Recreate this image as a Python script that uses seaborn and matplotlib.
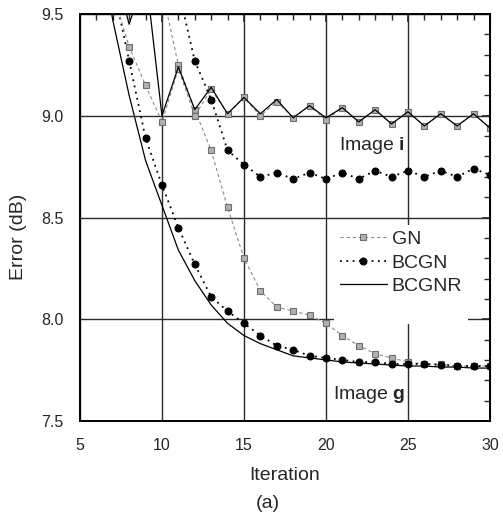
import numpy as np
import pandas as pd
import matplotlib
matplotlib.use("Agg")
import matplotlib.pyplot as plt
import seaborn as sns
from matplotlib.lines import Line2D
from matplotlib.ticker import MultipleLocator

# iteration numbers
iters = list(range(5, 31))

# image g curves
gn_g = [12.2, 11.7, 11.2, 10.7, 10.2, 9.62, 9.25, 9.03, 8.83, 8.55, 8.30, 8.14, 8.06,
        8.04, 8.02, 7.98, 7.92, 7.87, 7.83, 7.81, 7.79, 7.78, 7.78, 7.77, 7.77, 7.77]
bcgn_g = [10.8, 10.1, 9.65, 9.27, 8.89, 8.66, 8.45, 8.27, 8.11, 8.04, 7.98, 7.92, 7.87,
          7.85, 7.82, 7.81, 7.80, 7.79, 7.79, 7.78, 7.78, 7.78, 7.775, 7.77, 7.77, 7.77]
bcgnr_g = [10.6, 9.95, 9.47, 9.10, 8.78, 8.56, 8.34, 8.19, 8.07, 7.98, 7.92, 7.88, 7.85,
           7.82, 7.81, 7.80, 7.79, 7.785, 7.78, 7.775, 7.77, 7.77, 7.765, 7.765, 7.76, 7.76]

# image i curves
gn_i = [10.3, 10.0, 9.60, 9.34, 9.15, 8.97, 9.23, 9.00, 9.13, 9.01, 9.09, 9.00, 9.07,
        8.99, 9.05, 8.98, 9.04, 8.97, 9.03, 8.96, 9.02, 8.95, 9.01, 8.95, 9.01, 8.94]
bcgn_i = [11.5, 11.2, 10.9, 10.6, 10.3, 9.95, 9.62, 9.27, 9.08, 8.83, 8.76, 8.70, 8.72,
          8.69, 8.72, 8.69, 8.72, 8.69, 8.73, 8.70, 8.73, 8.70, 8.73, 8.70, 8.74, 8.71]
bcgnr_i = [10.3, 10.1, 9.75, 9.45, 9.70, 9.00, 9.24, 9.03, 9.14, 9.01, 9.09, 9.01, 9.08,
           8.99, 9.05, 8.99, 9.04, 8.97, 9.03, 8.96, 9.02, 8.95, 9.01, 8.95, 9.01, 8.94]

sns.set_style("white")
plt.rcParams['font.family'] = ['Liberation Sans', 'DejaVu Sans']
plt.rcParams['mathtext.fontset'] = 'custom'
plt.rcParams['mathtext.rm'] = 'Liberation Sans'
plt.rcParams['mathtext.bf'] = 'Liberation Sans:bold'

fig = plt.figure(figsize=(5.03, 5.21), dpi=100)
ax = fig.add_axes([0.159, 0.192, 0.815, 0.781])

gn_style = dict(color='#8a8a8a', linestyle=(0, (3, 2.5)), linewidth=0.8, marker='s',
                markersize=4.2, markerfacecolor='#b0b0b0', markeredgecolor='#6e6e6e',
                markeredgewidth=0.8)
bcgn_style = dict(color='black', linestyle=(0, (1, 2.5)), linewidth=1.3, marker='o',
                  markersize=5, markerfacecolor='black', markeredgecolor='black')
bcgnr_style = dict(color='black', linestyle='-', linewidth=0.9)

sns.lineplot(x=iters, y=gn_g, ax=ax, label='GN', **gn_style)
sns.lineplot(x=iters, y=bcgn_g, ax=ax, label='BCGN', **bcgn_style)
sns.lineplot(x=iters, y=bcgnr_g, ax=ax, label='BCGNR', **bcgnr_style)
sns.lineplot(x=iters, y=gn_i, ax=ax, **gn_style)
sns.lineplot(x=iters, y=bcgnr_i, ax=ax, **bcgnr_style)
sns.lineplot(x=iters, y=bcgn_i, ax=ax, **bcgn_style)

ax.set_xlim(5, 30)
ax.set_ylim(7.5, 9.5)
ax.xaxis.set_major_locator(MultipleLocator(5))
ax.xaxis.set_minor_locator(MultipleLocator(1))
ax.yaxis.set_major_locator(MultipleLocator(0.5))
ax.yaxis.set_minor_locator(MultipleLocator(0.1))
ax.yaxis.set_major_formatter(matplotlib.ticker.FormatStrFormatter('%.1f'))
ax.grid(True, which='major', color='#2a2a2a', linewidth=1.0)
ax.tick_params(which='major', direction='out', length=7, width=1.2, labelsize=11.5, pad=5)
ax.tick_params(which='minor', direction='out', length=4, width=1.0)
for s in ax.spines.values():
    s.set_linewidth(1.4)
    s.set_color('black')

top = ax.secondary_xaxis('top')
top.xaxis.set_major_locator(MultipleLocator(5))
top.xaxis.set_minor_locator(MultipleLocator(1))
top.tick_params(which='major', direction='in', length=6, width=1.2, labeltop=False)
top.tick_params(which='minor', direction='in', length=4, width=1.0)
right = ax.secondary_yaxis('right')
right.yaxis.set_major_locator(MultipleLocator(0.5))
right.yaxis.set_minor_locator(MultipleLocator(0.1))
right.tick_params(which='major', direction='in', length=6, width=1.2, labelright=False)
right.tick_params(which='minor', direction='in', length=4, width=1.0)

ax.set_xlabel('Iteration', fontsize=14, labelpad=10)
ax.set_ylabel('Error (dB)', fontsize=14)
ax.yaxis.set_label_coords(-0.13, 0.452)

handles, labels = ax.get_legend_handles_labels()
handles = handles + [Line2D([], [], linestyle='none')]
labels = labels + [' ']
leg = ax.legend(handles, labels, loc='upper left', bbox_to_anchor=(0.62, 0.482),
                fontsize=14, frameon=True, facecolor='white', edgecolor='none',
                framealpha=1, fancybox=False, borderpad=0.3, labelspacing=0.3,
                handlelength=2.4, handletextpad=0.25, numpoints=1, borderaxespad=0)

ax.text(20.8, 8.855, r'Image $\mathbf{i}$', fontsize=14, va='center', ha='left')
ax.text(20.4, 7.63, r'Image $\mathbf{g}$', fontsize=14, va='center', ha='left')

fig.text(268 / 503, 1 - 504 / 521, '(a)', fontsize=14, ha='center', va='center')

fig.savefig('out.png', dpi=100)
